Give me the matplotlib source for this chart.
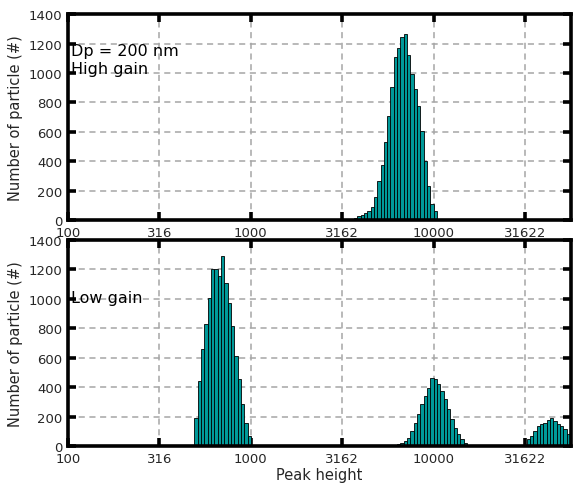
import numpy as np
import matplotlib
matplotlib.use('Agg')
import matplotlib.pyplot as plt

# log-spaced histogram bins, 55 per decade from 100
bins_per_decade = 55
n_bins = 152
edges = 100 * 10 ** (np.arange(n_bins + 1) / bins_per_decade)

# high gain channel (Dp = 200 nm)
high_start = 76
high_counts = [5, 0, 0, 0, 1, 2, 2, 3, 5, 8, 14, 30, 36, 45, 59, 86, 158, 267, 376,
               528, 709, 902, 1106, 1169, 1246, 1264, 1123, 992, 890, 777, 607,
               403, 233, 109, 63]

# low gain channel: three groups of peaks
low_start1 = 38
low_counts1 = [193, 442, 657, 827, 1008, 1201, 1201, 1155, 1290, 1110, 975, 816,
               612, 453, 283, 159, 68]
low_start2 = 96
low_counts2 = [3, 5, 8, 12, 23, 34, 57, 102, 159, 215, 283, 340, 397, 465, 453,
               419, 374, 317, 249, 181, 125, 80, 45, 23]
low_start3 = 138
low_counts3 = [45, 68, 102, 136, 152, 159, 175, 193, 170, 147, 136, 113, 80]

xticks = [100, 316, 1000, 3162, 10000, 31622]
xticklabels = ['100', '316', '1000', '3162', '10000', '31622']
yticks = [0, 200, 400, 600, 800, 1000, 1200, 1400]


def draw_hist(ax, groups):
    for start, counts in groups:
        left = edges[start:start + len(counts)]
        right = edges[start + 1:start + len(counts) + 1]
        ax.bar(left, counts, width=right - left, align='edge',
               facecolor='#009999', edgecolor='k', linewidth=0.6, zorder=2)


def style_axes(ax):
    ax.set_xscale('log')
    ax.set_xlim(100, 10 ** 4.75)
    ax.set_ylim(0, 1400)
    ax.set_xticks(xticks)
    ax.set_xticklabels(xticklabels)
    ax.minorticks_off()
    ax.set_yticks(yticks)
    ax.grid(True, linestyle=(0, (4, 3)), color='0.65', linewidth=1.1, zorder=0)
    ax.set_axisbelow(True)
    for s in ax.spines.values():
        s.set_linewidth(2.6)
    ax.tick_params(direction='in', length=6, width=2.6, top=True, right=True,
                   labelsize=9.5, pad=4, labelcolor='0.15')
    ax.set_ylabel('Number of particle (#)', fontsize=10.5, color='0.15')


fig = plt.figure(figsize=(5.74, 4.89), dpi=100)
ax1 = fig.add_axes([0.1185, 0.548, 0.876, 0.421])
ax2 = fig.add_axes([0.1185, 0.086, 0.876, 0.421])

draw_hist(ax1, [(high_start, high_counts)])
style_axes(ax1)
ax1.text(104, 1000, 'Dp = 200 nm\nHigh gain', fontsize=11.5, va='baseline',
         linespacing=1.25)

draw_hist(ax2, [(low_start1, low_counts1), (low_start2, low_counts2),
                (low_start3, low_counts3)])
style_axes(ax2)
ax2.text(104, 980, 'Low gain', fontsize=11.5, va='baseline')
ax2.set_xlabel('Peak height', fontsize=10.5, labelpad=2, color='0.15')

fig.savefig('out.png', dpi=100)
